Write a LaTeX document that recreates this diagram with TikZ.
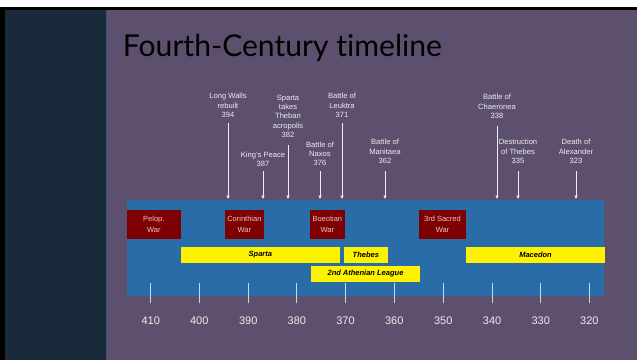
\documentclass[tikz,border=0pt]{standalone}
\usepackage{fontspec}
\setmainfont{Liberation Sans}
\newfontfamily\titlefont[Ligatures={NoCommon,NoDiscretionary,NoRare}]{Lato}
\usetikzlibrary{arrows.meta}
\definecolor{bgpurple}{HTML}{5D4F6E}
\definecolor{panel}{HTML}{1B2A3A}
\definecolor{band}{HTML}{2A6CA7}
\definecolor{maroon}{HTML}{7F0000}
\definecolor{wartext}{HTML}{E6C8C8}
\definecolor{evtext}{HTML}{EDEDED}
\tikzset{
  warbox/.style={fill=maroon, text=wartext, inner sep=0pt, minimum height=29.3pt, align=center, font=\fontsize{7.5}{11}\selectfont},
  powerbar/.style={fill=yellow, text=black, inner sep=0pt, minimum height=15.7pt, font=\fontsize{7.5}{9}\selectfont\bfseries\itshape},
  evlabel/.style={anchor=south, inner sep=0pt, align=center, text=evtext, font=\fontsize{7.6}{9.2}\selectfont},
  evarrow/.style={draw=evtext, line width=0.8pt, -{Latex[length=4pt,width=3.5pt]}},
  tickmark/.style={draw=white, draw opacity=0.75, line width=1pt},
  ticklabel/.style={inner sep=0pt, text=evtext, font=\fontsize{11}{12}\selectfont}
}
\begin{document}
\begin{tikzpicture}[x=1pt,y=-1pt]
\useasboundingbox (0,0) rectangle (637,360);
% background
\fill[white] (0,0) rectangle (637,360);
\fill[bgpurple] (5,10) rectangle (637,360);
\fill[black] (0,7) rectangle (637,10);
\fill[black] (0,7) rectangle (5,360);
\fill[panel] (5,10) rectangle (106.5,360);
\draw[band!70!panel, line width=0.6pt] (106.5,10) -- (106.5,360);
% title
\node[anchor=base west, inner sep=0pt, font=\titlefont\fontsize{28}{30}\selectfont] (title) at (122.7,56) {\resizebox{319pt}{!}{Fourth-Century timeline}};
% band
\fill[band] (127.4,200) rectangle (604,296);
% wars
\node[warbox, minimum width=54.3pt] (pelop) at (153.85,224.65) {Pelop.\\War};
\node[warbox, minimum width=38.7pt] (corinth) at (244.35,224.65) {Corinthian\\War};
\node[warbox, minimum width=34.7pt] (boeot) at (327.35,224.65) {Boeotian\\War};
\node[warbox, minimum width=47pt] (sacred) at (442.5,224.65) {3rd Sacred\\War};
% powers
\node[powerbar, minimum width=158.7pt] (sparta) at (260.35,254.85) {Sparta};
\node[powerbar, minimum width=43.7pt] (thebes) at (365.85,254.85) {Thebes};
\node[powerbar, minimum width=139pt] (macedon) at (535.5,254.85) {Macedon};
\node[powerbar, minimum width=109pt] (league) at (365.5,273.85) {2nd Athenian League};
% events
\node[evlabel] (e394) at (228,117.5) {Long Walls\\rebuilt\\394};
\node[evlabel] (e387) at (263,166.8) {King's Peace\\387};
\node[evlabel] (e382) at (288,137.5) {Sparta\\takes\\Theban\\acropolis\\382};
\node[evlabel] (e376) at (320,165.8) {Battle of\\Naxos\\376};
\node[evlabel] (e371) at (342,117.5) {Battle of\\Leuktra\\371};
\node[evlabel] (e362) at (385,163.5) {Battle of\\Manitaea\\362};
\node[evlabel] (e338) at (497,118.5) {Battle of\\Chaeronea\\338};
\node[evlabel] (e335) at (518,163.5) {Destruction\\of Thebes\\335};
\node[evlabel] (e323) at (576,163.5) {Death of\\Alexander\\323};
\foreach \n/\x/\t in {394/228/123, 387/263/171, 382/288/145, 376/320/171, 371/342/123, 362/385/171, 338/497/126, 335/518/171, 323/576/171}{
  \coordinate (s\n) at (\x,\t);
  \coordinate (t\n) at (\x,199.5);
  \draw[evarrow] (s\n) -- (t\n);
}
% axis ticks
\foreach \yr/\x in {410/150.7, 400/199.3, 390/248.3, 380/296.9, 370/345.5, 360/394.2, 350/443.2, 340/492.1, 330/540.8, 320/589.4}{
  \coordinate (ta\yr) at (\x,283.4);
  \coordinate (tb\yr) at (\x,303.3);
  \draw[tickmark] (ta\yr) -- (tb\yr);
  \node[ticklabel] (l\yr) at (\x,320.4) {\yr};
}
\end{tikzpicture}
\end{document}
